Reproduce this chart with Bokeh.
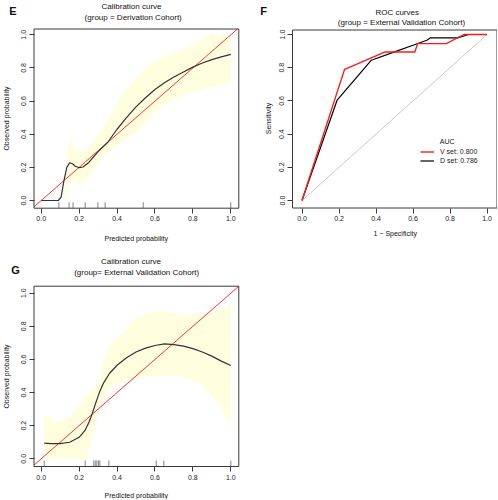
import math
from bokeh.plotting import figure
from bokeh.models import (Range1d, FixedTicker, PrintfTickFormatter, Label,
                          Legend, LegendItem, BoxAnnotation)
from bokeh.layouts import column, row
from bokeh.embed import file_html
from bokeh.resources import INLINE

# ---------------- data ----------------
tick_values = [0.0, 0.2, 0.4, 0.6, 0.8, 1.0]

# Panel E: calibration, derivation cohort
cal_d_x = [0.0, 0.09, 0.105, 0.12, 0.135, 0.15, 0.165, 0.18, 0.20, 0.22, 0.25, 0.30,
           0.35, 0.40, 0.45, 0.50, 0.55, 0.60, 0.65, 0.70, 0.75, 0.80, 0.85, 0.90, 0.95, 1.0]
cal_d_y = [0.0, 0.0, 0.02, 0.12, 0.20, 0.228, 0.222, 0.207, 0.198, 0.202, 0.228, 0.295,
           0.35, 0.43, 0.50, 0.565, 0.62, 0.67, 0.71, 0.745, 0.775, 0.805, 0.83, 0.85, 0.867, 0.882]
band_d_x = [0.12, 0.13, 0.14, 0.155, 0.17, 0.19, 0.21, 0.24, 0.28, 0.32, 0.36, 0.40, 0.45,
            0.50, 0.55, 0.60, 0.65, 0.70, 0.75, 0.80, 0.85, 0.875, 0.90, 1.0]
band_d_hi = [0.03, 0.18, 0.31, 0.37, 0.33, 0.295, 0.29, 0.31, 0.36, 0.43, 0.51, 0.59, 0.67,
             0.745, 0.80, 0.845, 0.87, 0.895, 0.915, 0.94, 0.97, 1.0, 1.0, 1.0]
band_d_lo = [0.0, 0.0, 0.05, 0.12, 0.12, 0.105, 0.10, 0.12, 0.19, 0.26, 0.30, 0.33, 0.37,
             0.41, 0.47, 0.53, 0.575, 0.61, 0.635, 0.655, 0.67, 0.68, 0.685, 0.70]
rug_d = [0.093, 0.147, 0.168, 0.232, 0.299, 0.337, 0.538, 1.0]

# Panel F: ROC curves
roc_v_fpr = [0.0, 0.23, 0.45, 0.61, 0.625, 0.78, 0.875, 1.0]
roc_v_tpr = [0.0, 0.79, 0.895, 0.895, 0.945, 0.945, 1.0, 1.0]
roc_d_fpr = [0.0, 0.19, 0.375, 0.50, 0.60, 0.675, 0.695, 0.84, 0.90, 1.0]
roc_d_tpr = [0.0, 0.605, 0.845, 0.895, 0.935, 0.965, 0.98, 0.98, 1.0, 1.0]
auc_labels = ["V set: 0.800", "D set: 0.786"]

# Panel G: calibration, external validation cohort
cal_v_x = [0.016, 0.05, 0.10, 0.15, 0.20, 0.23, 0.25, 0.27, 0.29, 0.31, 0.33, 0.36, 0.40,
           0.45, 0.50, 0.55, 0.60, 0.65, 0.70, 0.75, 0.80, 0.85, 0.90, 0.95, 1.0]
cal_v_y = [0.095, 0.092, 0.092, 0.10, 0.13, 0.17, 0.215, 0.275, 0.345, 0.41, 0.46, 0.515, 0.565,
           0.61, 0.645, 0.668, 0.684, 0.694, 0.69, 0.68, 0.665, 0.645, 0.62, 0.59, 0.563]
band_v_hi_x = [0.016, 0.05, 0.076, 0.12, 0.16, 0.20, 0.225, 0.26, 0.286, 0.30, 0.32, 0.35,
               0.40, 0.45, 0.49, 0.55, 0.60, 0.65, 0.72, 0.78, 0.84, 0.90, 0.95, 1.0]
band_v_hi = [0.278, 0.24, 0.225, 0.235, 0.27, 0.32, 0.37, 0.40, 0.43, 0.46, 0.55, 0.67,
             0.72, 0.79, 0.845, 0.88, 0.89, 0.89, 0.875, 0.868, 0.868, 0.88, 0.905, 0.94]
band_v_lo_x = [0.016, 0.10, 0.20, 0.234, 0.26, 0.278, 0.30, 0.33, 0.36, 0.40, 0.45, 0.50,
               0.55, 0.60, 0.65, 0.72, 0.78, 0.84, 0.90, 0.95, 1.0]
band_v_lo = [0.0, 0.0, 0.0, 0.0, 0.08, 0.17, 0.27, 0.36, 0.42, 0.45, 0.47, 0.485,
             0.495, 0.50, 0.50, 0.50, 0.48, 0.45, 0.38, 0.30, 0.20]
rug_v = [0.016, 0.232, 0.277, 0.285, 0.293, 0.302, 0.309, 0.357, 0.607, 0.647, 1.0]

# ---------------- style ----------------
FONT = "Liberation Sans"
AX = "#3a3a3a"
TXT = "#1a1a1a"
BAND = "#FFFFE0"


class Panel:
    """Pixel layout of one panel: figure rectangle and data->pixel scale."""
    def __init__(self, fx, fy, fw, fh, x0px, x1px, y0px, y1px, box):
        self.fx, self.fy, self.fw, self.fh = fx, fy, fw, fh
        self.x0px, self.y0px = x0px, y0px
        self.kx = x1px - x0px          # pixels per unit in x
        self.ky = y0px - y1px          # pixels per unit in y
        self.box = box                 # (left, top, right, bottom) in page pixels

    def dx(self, px):
        return (px - self.x0px) / self.kx

    def dy(self, py):
        return (self.y0px - py) / self.ky


def make(pn):
    p = figure(width=pn.fw, height=pn.fh,
               x_range=Range1d(pn.dx(pn.fx), pn.dx(pn.fx + pn.fw)),
               y_range=Range1d(pn.dy(pn.fy + pn.fh), pn.dy(pn.fy)),
               output_backend="svg", toolbar_location=None, title=None, min_border=0)
    p.outline_line_color = None
    p.grid.visible = False
    l, t, r, b = pn.box
    p.xaxis.fixed_location = pn.dy(b)
    p.yaxis.fixed_location = pn.dx(l)
    for ax in (p.xaxis[0], p.yaxis[0]):
        ax.ticker = FixedTicker(ticks=tick_values)
        ax.formatter = PrintfTickFormatter(format="%.1f")
        ax.axis_line_color = None
        ax.major_tick_line_color = AX
        ax.major_tick_out = 5
        ax.major_tick_in = 0
        ax.minor_tick_line_color = None
        ax.major_label_text_font = FONT
        ax.major_label_text_font_size = "7px"
        ax.major_label_text_color = TXT
        ax.major_label_standoff = 3
    p.yaxis.major_label_orientation = "vertical"
    p.add_layout(BoxAnnotation(left=pn.dx(l), right=pn.dx(r), top=pn.dy(t), bottom=pn.dy(b),
                               fill_alpha=0, line_color=AX, line_width=1, line_alpha=1))
    return p


def add_text(p, pn, px, py, text, size="8px", bold=False, align="center", angle=0.0):
    p.add_layout(Label(x=pn.dx(px), y=pn.dy(py), text=text, text_font=FONT,
                       text_font_size=size, text_font_style="bold" if bold else "normal",
                       text_color="#111111", text_align=align, text_baseline="middle",
                       angle=angle))


def calibration(p, pn, cx, cy, bx_hi, b_hi, bx_lo, b_lo, rug):
    l, t, r, b = pn.box
    p.patch(bx_hi + bx_lo[::-1], b_hi + b_lo[::-1], fill_color=BAND, line_color=None)
    lo = max(pn.dx(l), pn.dy(b))
    hi = min(pn.dx(r), pn.dy(t))
    p.line([lo, hi], [lo, hi], line_color="#FF3333", line_width=1)
    p.line(cx, cy, line_color="#333333", line_width=1.2)
    y_base = pn.dy(b)
    y_top = pn.dy(b - 6)
    p.segment(x0=rug, y0=[y_base] * len(rug), x1=rug, y1=[y_top] * len(rug),
              line_color="#777777", line_width=0.9)


# ---- Panel E ----
pnE = Panel(0, 0, 248, 250, 40.7, 230.3, 200.0, 34.3, (33.5, 28.5, 238.3, 207.7))
pE = make(pnE)
calibration(pE, pnE, cal_d_x, cal_d_y, band_d_x, band_d_hi, band_d_x, band_d_lo, rug_d)
add_text(pE, pnE, 12.5, 10, "E", size="11px", bold=True)
add_text(pE, pnE, 131, 6.3, "Calibration curve")
add_text(pE, pnE, 132.7, 17, "(group = Derivation Cohort)")
add_text(pE, pnE, 135.8, 237.5, "Predicted probability", size="7px")
add_text(pE, pnE, 5.5, 118, "Observed probability", size="7px", angle=math.pi / 2)

# ---- Panel F ----
pnF = Panel(248, 0, 249, 250, 301.5, 486.5, 200.0, 34.0, (292.0, 29.5, 496.5, 207.5))
pF = make(pnF)
pF.line([0, 1], [0, 1], line_color="#BBBBBB", line_width=0.8)
rd = pF.line(roc_d_fpr, roc_d_tpr, line_color="#000000", line_width=1.2)
rv = pF.line(roc_v_fpr, roc_v_tpr, line_color="#FF1A1A", line_width=1.4)
leg = Legend(items=[LegendItem(label=auc_labels[0], renderers=[rv]),
                    LegendItem(label=auc_labels[1], renderers=[rd])],
             location=(172, 85), padding=0, margin=0, spacing=0,
             glyph_width=14, glyph_height=9, label_height=9, label_standoff=6,
             label_text_font=FONT, label_text_font_size="7px", label_text_color=TXT,
             border_line_color=None, background_fill_alpha=0)
pF.add_layout(leg)
add_text(pF, pnF, 439.3, 140.5, "AUC", size="7px", align="left")
add_text(pF, pnF, 263, 10.5, "F", size="11px", bold=True)
add_text(pF, pnF, 396.7, 11.7, "ROC curves")
add_text(pF, pnF, 401, 22, "(group = External Validation Cohort)")
add_text(pF, pnF, 394.7, 232.7, "1 \u2212 Specificity", size="7px")
add_text(pF, pnF, 268, 118, "Sensitivity", size="7px", angle=math.pi / 2)

# ---- Panel G ----
pnG = Panel(0, 250, 248, 249, 40.7, 230.3, 458.3, 292.7, (33.5, 285.7, 238.3, 466.0))
pG = make(pnG)
calibration(pG, pnG, cal_v_x, cal_v_y, band_v_hi_x, band_v_hi, band_v_lo_x, band_v_lo, rug_v)
add_text(pG, pnG, 15, 269, "G", size="11px", bold=True)
add_text(pG, pnG, 130.5, 261.3, "Calibration curve")
add_text(pG, pnG, 136.2, 272, "(group= External Validation Cohort)")
add_text(pG, pnG, 135.8, 495, "Predicted probability", size="7px")
add_text(pG, pnG, 5.5, 376, "Observed probability", size="7px", angle=math.pi / 2)

layout = column(row(pE, pF), pG)
open("out.html", "w").write(file_html(layout, INLINE))
